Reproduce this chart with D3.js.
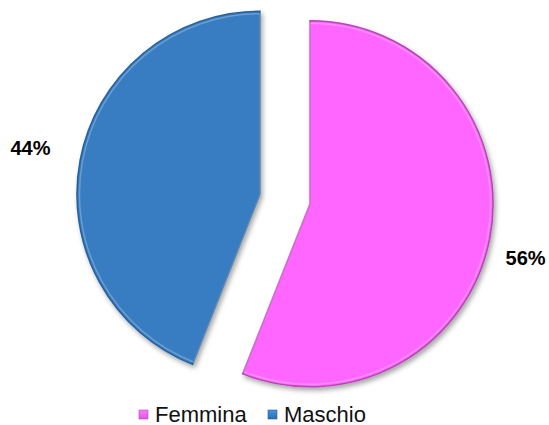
<!DOCTYPE html>
<html>
<head>
<meta charset="utf-8">
<script src="https://cdn.jsdelivr.net/npm/d3@7"></script>
<style>
  body { margin: 0; background: #fff; }
  svg { display: block; font-family: "Liberation Sans", Arial, sans-serif; }
</style>
</head>
<body>
<svg id="chart"></svg>
<script>
// chart data
var categories = ["Femmina", "Maschio"];
var values = [56, 44];
var fills = ["#ff66ff", "#377dc1"];
var edges = ["#b347b3", "#28609a"];

var width = 549, height = 425;
var cx = 285, cy = 199, radius = 183, explode = 25.5;

var svg = d3.select("#chart")
    .attr("width", width)
    .attr("height", height);

var defs = svg.append("defs");

// soft shadow under the slices
var shadow = defs.append("filter")
    .attr("id", "shadow")
    .attr("x", "-10%").attr("y", "-10%")
    .attr("width", "130%").attr("height", "130%");
shadow.append("feDropShadow")
    .attr("dx", 2).attr("dy", 3)
    .attr("stdDeviation", 2.5)
    .attr("flood-color", "#000")
    .attr("flood-opacity", 0.35);

// little gradients for the legend keys
categories.forEach(function(c, i) {
  var g = defs.append("linearGradient")
      .attr("id", "key" + i)
      .attr("x1", 0).attr("y1", 0).attr("x2", 0).attr("y2", 1);
  g.append("stop").attr("offset", "0%").attr("stop-color", d3.color(fills[i]).brighter(0.5));
  g.append("stop").attr("offset", "100%").attr("stop-color", d3.color(fills[i]).darker(0.4));
});

var pie = d3.pie().sort(null).value(function(d) { return d; });
var arcs = pie(values);

var arc = d3.arc().innerRadius(0).outerRadius(radius);

function mid(d) { return (d.startAngle + d.endAngle) / 2; }

var g = svg.append("g")
    .attr("transform", "translate(" + cx + "," + cy + ")");

// slices, each pushed out along its middle angle
var slice = g.selectAll(".slice")
  .data(arcs)
  .enter().append("g")
    .attr("class", "slice")
    .attr("transform", function(d) {
      var a = mid(d);
      return "translate(" + (Math.sin(a) * explode) + "," + (-Math.cos(a) * explode) + ")";
    });

slice.append("path")
    .attr("d", arc)
    .attr("fill", function(d, i) { return fills[i]; })
    .attr("stroke", function(d, i) { return edges[i]; })
    .attr("stroke-width", 1.5)
    .attr("filter", "url(#shadow)");

// thin highlight just inside the edge (bevel look)
slice.append("path")
    .attr("d", d3.arc().innerRadius(0).outerRadius(radius - 2.5))
    .attr("fill", "none")
    .attr("stroke", "#fff")
    .attr("stroke-opacity", 0.25)
    .attr("stroke-width", 1.5);

// percentage labels outside each slice
var labelR = 252;
var lg = g.append("g").attr("transform", "translate(-7,4)");
lg.selectAll(".lbl")
  .data(arcs)
  .enter().append("text")
    .attr("class", "lbl")
    .attr("x", function(d) { return Math.sin(mid(d)) * labelR; })
    .attr("y", function(d) {
      var c = -Math.cos(mid(d));
      return c * labelR + (c > 0 ? 8 : -8);
    })
    .attr("dy", "0.35em")
    .attr("text-anchor", "middle")
    .attr("font-size", 20)
    .attr("font-weight", "bold")
    .attr("fill", "#000")
    .text(function(d) { return d.data + "%"; });

// legend
var legend = svg.append("g")
    .attr("transform", "translate(139,410)");

var lx = d3.scalePoint().domain(categories).range([0, 129]);

var item = legend.selectAll(".item")
  .data(categories)
  .enter().append("g")
    .attr("class", "item")
    .attr("transform", function(d) { return "translate(" + lx(d) + ",0)"; });

item.append("rect")
    .attr("width", 9).attr("height", 9)
    .attr("fill", function(d, i) { return "url(#key" + i + ")"; })
    .attr("stroke", function(d, i) { return edges[i]; })
    .attr("stroke-width", 0.6);

item.append("text")
    .attr("x", 16)
    .attr("y", 11.5)
    .attr("font-size", 22)
    .attr("fill", "#111")
    .text(function(d) { return d; });
</script>
</body>
</html>
